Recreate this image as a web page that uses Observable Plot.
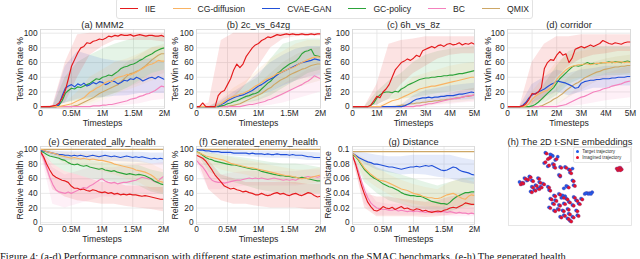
<!DOCTYPE html>
<html><head><meta charset="utf-8">
<script src="https://cdn.jsdelivr.net/npm/d3@7"></script>
<script src="https://cdn.jsdelivr.net/npm/@observablehq/plot@0.6"></script>
<style>
body{margin:0;background:#fff;font-family:"Liberation Sans",Arial,sans-serif;}
#root{position:relative;width:640px;height:259px;overflow:hidden;background:#fff;}
.p{position:absolute;}
.ylab{position:absolute;white-space:nowrap;font-size:8.7px;color:#262626;transform:translate(-50%,-50%) rotate(-90deg);line-height:1;}
#legend{position:absolute;left:116px;top:-2px;height:19px;border:1px solid #e2e2e2;border-radius:3px;display:flex;align-items:center;padding:0 3px 0 3px;font-size:8.6px;color:#262626;background:#fff;}
#legend .it{display:flex;align-items:center;margin-right:17px;}
#legend .it:last-child{margin-right:0;}
#legend .sw{width:18px;height:0;border-top:1.4px solid;margin-right:7px;}
#tlegend{position:absolute;left:573px;top:147px;width:56px;height:14px;border:1px solid #e6e6e6;border-radius:2px;font-size:4.6px;color:#333;background:#fff;}
#tlegend div{display:flex;align-items:center;height:6.5px;padding-left:2px;}
#tlegend span.d{width:3.2px;height:3.2px;border-radius:50%;margin-right:3px;display:inline-block;}
#caption{position:absolute;left:0;top:251px;width:640px;font-family:"Liberation Serif","Times New Roman",serif;font-size:10.5px;color:#111;white-space:nowrap;}
</style></head><body><div id="root"></div><script>
const methods = ["IIE","CG-diffusion","CVAE-GAN","GC-policy","BC","QMIX"];
const colors = ["#e41a1c","#f9b363","#2150d8","#2ca33a","#f481bd","#cda766"];
const xTicks2 = [0,0.5,1,1.5,2];
const xTicks5 = [0,1,2,3,4,5];
const yTicksPct = [0,20,40,60,80,100];
const yTicksDist = [0,0.02,0.04,0.06,0.08,0.1];

// (a) MMM2 — win rate %, 0..2M
const mmm2_IIE = [0,0,0,0,1,2,5,12,22,38,55,64,73,80,82,87,86,89,90,92,91,93,96,95,97,96,98,97,97,98,96,97,98,97,96,97,97,96,96,97,95];
const mmm2_CG = [0,0,0,0,0,0,0,1,2,3,4,6,8,10,12,16,20,22,25,27,30,33,35,34,38,40,41,42,44,43,45,47,50,52,55,57,58,60,63,62,62];
const mmm2_CVAE = [0,0,0,0,0,0,3,15,25,28,30,27,31,29,32,28,30,33,31,34,33,30,32,35,34,31,33,36,35,38,37,40,38,35,37,39,40,38,41,39,37];
const mmm2_GC = [0,0,0,0,0,0,2,8,18,22,25,24,27,26,28,30,32,35,38,37,40,41,43,42,45,48,52,54,55,57,58,60,63,65,68,70,72,75,77,79,80];
const mmm2_BC = [0,0,0,0,0,0,0,0,0,0,0,0,0,0,0,0,0,1,1,1,2,2,3,3,4,5,6,7,8,10,11,12,14,15,17,18,20,22,25,28,27];
const mmm2_QMIX = [0,0,0,0,0,0,0,0,0,0,0,1,2,4,6,8,10,12,15,18,20,22,24,26,28,30,34,38,42,45,46,48,50,53,56,60,64,67,70,72,72];
const mmm2_lo = [[0,0,5,40,70,82,90,90,90,90,88],[0,0,0,0,5,12,18,22,28,35,40],[0,0,5,10,12,12,14,15,18,18,18],[0,0,5,8,10,12,18,25,35,45,50],[0,0,0,0,0,0,0,2,4,8,10],[0,0,0,0,2,8,15,25,32,40,45]];
const mmm2_hi = [[0,2,60,98,100,100,100,100,100,100,100],[0,0,5,20,40,50,60,65,72,80,82],[0,0,55,75,70,65,62,62,65,65,60],[0,0,40,60,70,78,85,90,95,95,95],[0,0,0,0,2,8,15,25,35,45,50],[0,0,0,5,20,35,45,60,70,80,85]];

// (b) 2c_vs_64zg
const zg_IIE = [0,0,5,0,0,0,0,15,20,22,30,38,50,58,53,58,68,74,80,84,86,90,92,95,94,96,98,97,98,99,98,99,98,98,99,98,98,99,98,99,99];
const zg_CG = [0,0,0,0,0,0,0,2,4,7,10,12,14,15,17,18,20,22,25,28,30,33,36,38,40,42,45,46,48,50,52,53,55,58,60,62,64,66,67,68,67];
const zg_CVAE = [0,0,0,0,0,0,0,1,3,5,8,10,12,14,15,16,18,20,22,25,28,30,33,36,38,40,43,46,48,50,52,54,56,58,60,61,62,63,65,64,63];
const zg_GC = [0,0,0,0,0,0,0,0,1,2,4,5,7,8,10,12,14,15,17,18,20,24,28,32,35,40,45,48,52,55,58,60,62,66,72,75,76,78,70,69,68];
const zg_BC = [0,0,0,0,0,0,0,0,0,0,0,0,0,0,0,1,2,3,3,4,5,6,7,9,10,12,14,16,18,20,22,24,26,28,30,33,35,38,42,40,38];
const zg_QMIX = [0,0,0,0,0,0,0,0,0,0,0,1,2,3,4,6,8,10,12,14,16,18,21,24,26,30,33,36,38,40,43,45,47,49,51,52,54,56,57,58,58];
const zg_lo = [[0,0,2,10,30,55,80,92,95,96,96],[0,0,0,5,10,15,22,30,35,40,45],[0,0,0,5,10,15,20,28,35,40,42],[0,0,0,0,5,8,15,25,35,45,50],[0,0,0,0,0,0,2,5,10,15,20],[0,0,0,0,2,5,10,15,25,30,35]];
const zg_hi = [[0,5,90,100,100,100,100,100,100,100,100],[0,0,10,25,35,50,65,75,85,90,90],[0,0,8,20,30,45,60,70,78,82,82],[0,0,5,15,30,40,65,85,90,92,92],[0,0,0,2,5,10,20,30,40,50,55],[0,0,0,5,15,30,45,60,70,78,80]];

// (c) 6h_vs_8z, 0..5M
const h8z_IIE = [0,0,0,0,0,0,2,8,14,12,20,24,30,40,50,55,60,62,65,63,66,70,68,76,78,80,82,80,83,84,82,85,86,84,85,87,84,86,85,87,85];
const h8z_CG = [0,0,0,0,0,0,0,0,0,0,2,4,6,8,9,10,12,14,16,18,20,22,24,25,26,27,28,28,29,30,31,32,33,34,35,36,37,38,39,40,40];
const h8z_CVAE = [0,0,0,0,0,0,0,0,0,0,0,0,0,0,0,0,0,1,3,5,8,10,11,12,12,13,12,13,13,14,14,15,15,15,16,17,17,18,19,20,19];
const h8z_GC = [0,0,0,0,0,0,2,5,12,16,19,20,20,19,21,20,24,26,29,31,33,35,37,38,39,39,40,40,41,41,42,42,43,43,44,45,45,46,47,48,49];
const h8z_BC = [0,0,0,0,0,0,0,0,0,0,0,0,0,0,0,0,0,0,0,0,0,1,1,2,3,4,4,5,6,7,8,9,10,11,11,12,13,14,15,15,16];
const h8z_QMIX = [0,0,0,0,0,0,0,0,0,0,0,0,0,0,0,1,2,2,3,4,4,5,5,6,6,7,7,8,8,9,9,10,10,11,12,12,13,14,14,15,16];
const h8z_lo = [[0,0,2,10,30,45,55,65,70,72,72],[0,0,0,0,2,8,12,15,18,20,22],[0,0,0,0,0,2,5,6,8,9,10],[0,0,2,10,10,12,15,18,20,22,22],[0,0,0,0,0,0,0,2,3,5,6],[0,0,0,0,0,0,2,3,5,6,8]];
const h8z_hi = [[0,0,30,85,90,92,95,95,95,95,95],[0,0,0,10,25,40,45,50,55,58,60],[0,0,0,0,2,15,22,25,28,30,32],[0,0,20,35,45,60,70,75,78,80,82],[0,0,0,0,0,2,8,12,18,22,25],[0,0,0,0,3,8,12,15,18,22,25]];

// (d) corridor, 0..5M
const cor_IIE = [0,0,0,0,0,1,4,10,18,17,20,26,52,60,64,63,70,75,70,72,60,66,78,80,82,80,82,84,82,84,86,90,88,86,85,87,86,85,87,88,88];
const cor_CG = [0,0,0,0,0,0,1,4,10,14,17,19,21,22,25,30,37,42,46,50,53,55,56,57,57,58,58,57,58,59,59,60,60,60,61,60,61,61,60,61,60];
const cor_CVAE = [0,0,0,0,0,2,6,12,16,18,20,22,24,27,30,32,35,34,33,32,30,28,25,26,32,34,35,36,36,37,37,38,38,38,39,39,40,40,40,41,41];
const cor_GC = [0,0,0,0,0,0,0,0,1,3,6,10,14,18,22,26,32,38,42,46,50,54,56,55,56,58,60,58,59,58,59,60,60,61,60,61,61,60,61,62,61];
const cor_BC = [0,0,0,0,0,0,0,0,0,0,0,0,0,0,0,0,0,1,2,3,5,7,9,11,13,14,16,18,20,21,22,24,25,26,28,29,30,31,33,34,35];
const cor_QMIX = [0,0,0,0,0,0,0,0,0,0,0,1,3,5,7,10,12,15,18,22,25,28,31,33,36,39,41,43,45,47,48,50,51,52,53,54,54,55,55,56,56];
const cor_lo = [[0,0,2,10,40,55,65,70,72,75,75],[0,0,2,8,20,35,40,42,45,45,45],[0,0,5,12,20,15,20,25,25,28,28],[0,0,0,5,15,30,38,40,42,42,42],[0,0,0,0,0,0,2,5,8,10,12],[0,0,0,0,2,12,22,32,38,42,45]];
const cor_hi = [[0,0,60,85,95,95,98,98,98,98,98],[0,0,20,40,60,70,75,78,78,78,78],[0,0,30,40,50,45,50,52,55,55,55],[0,0,5,30,55,75,80,82,82,82,82],[0,0,0,0,2,15,30,40,45,50,55],[0,0,0,5,25,40,52,60,65,68,70]];

// (e) Generated_ally_health %
const ally_IIE = [97,90,80,72,65,62,60,58,57,55,50,47,47,45,46,44,43,45,44,42,41,42,40,41,39,40,38,39,38,39,38,38,37,36,37,36,35,34,33,32,32];
const ally_CG = [100,99,97,96,95,94,92,91,90,89,88,89,88,87,88,87,86,87,86,85,85,84,83,82,80,79,78,77,76,75,74,72,71,70,69,67,65,62,58,56,55];
const ally_CVAE = [99,98,97,96,95,94,93,93,92,92,91,92,91,92,91,90,91,92,91,90,91,92,91,90,91,90,89,90,91,90,89,90,89,90,89,88,87,88,87,88,87];
const ally_GC = [98,96,93,91,90,89,88,86,85,82,80,79,80,78,77,78,76,75,74,73,74,72,71,70,71,69,68,67,66,67,66,65,66,65,64,62,60,57,55,53,52];
const ally_BC = [96,88,75,62,52,45,42,41,40,42,40,42,44,46,48,47,50,52,55,58,60,57,55,54,55,53,54,55,55,56,57,58,60,62,61,60,59,56,55,60,63];
const ally_QMIX = [100,100,100,100,100];
const ally_lo = [[95,45,35,30,28,25,25,22,20,18,15],[99,90,80,78,75,70,65,60,55,45,40],[98,90,85,85,85,84,84,83,82,80,80],[97,80,70,65,60,58,55,52,50,42,38],[95,25,20,25,30,35,35,38,40,38,40],null];
const ally_hi = [[100,80,70,65,60,55,55,50,50,48,48],[100,98,96,95,93,92,90,88,85,80,72],[100,98,97,97,97,97,96,96,96,95,95],[100,95,92,88,85,82,80,78,78,72,68],[100,75,65,70,75,75,75,78,80,80,82],null];

// (f) Generated_enemy_health %
const enemy_IIE = [92,90,88,84,78,72,65,60,55,50,48,46,47,45,44,42,43,41,40,38,38,40,38,37,38,40,41,39,40,38,37,39,40,38,37,39,41,40,37,35,36];
const enemy_CG = [96,95,93,91,90,89,88,87,86,85,83,81,80,79,78,77,76,75,75,74,73,72,71,70,69,68,67,66,65,64,64,63,62,61,60,61,60,62,63,64,65];
const enemy_CVAE = [100,99,99,98,98,97,97,97,96,96,96,96,95,95,95,95,95,94,95,94,94,94,93,94,93,93,94,93,93,93,92,93,92,92,92,91,90,90,89,89,89];
const enemy_GC = [97,95,92,89,87,86,84,83,82,81,80,79,79,78,77,76,75,74,73,73,72,70,69,68,67,66,65,64,64,63,63,62,62,61,62,61,60,59,58,57,57];
const enemy_BC = [85,80,76,70,63,58,56,55,55,54,55,56,57,58,58,59,60,61,60,61,60,61,60,59,60,61,60,59,58,59,58,59,58,60,61,62,63,62,63,62,63];
const enemy_QMIX = [100,100,100,100,100];
const enemy_lo = [[90,45,30,25,25,22,20,20,20,18,18],[95,80,72,68,65,60,57,55,52,52,55],[99,94,92,91,90,89,88,88,87,85,85],[95,70,60,55,50,45,42,40,40,40,40],[80,45,45,48,50,50,50,50,50,52,52],null];
const enemy_hi = [[95,85,65,60,55,55,55,55,55,52,52],[98,95,92,88,85,82,78,75,72,72,75],[100,100,99,99,98,98,98,97,97,96,95],[99,95,92,90,88,85,82,80,80,78,75],[90,70,65,68,70,70,70,70,70,72,72],null];

// (g) Distance, in thousandths
const dist_IIE = [92,80,65,50,38,28,22,17,16,18,22,20,19,21,18,20,22,19,20,18,17,19,18,16,17,15,14,15,16,15,17,18,20,21,20,22,24,27,26,25,25];
const dist_CG = [95,91,86,80,74,70,66,63,60,58,57,56,54,52,50,48,46,45,44,42,40,39,38,36,35,34,34,33,33,34,36,38,39,40,38,35,33,32,36,38,37];
const dist_CVAE = [95,92,89,87,85,83,82,80,80,79,78,77,76,76,75,74,73,74,75,76,76,77,76,77,78,77,78,76,74,72,71,72,74,76,75,72,70,69,68,66,65];
const dist_GC = [93,90,85,78,72,68,64,61,59,56,53,51,49,48,46,44,41,39,38,37,37,36,36,35,33,31,29,28,27,26,26,25,28,32,35,37,39,41,41,42,42];
const dist_BC = [90,82,70,56,44,34,27,23,20,19,18,18,17,17,18,16,17,16,15,16,15,16,15,15,14,15,16,15,14,15,15,14,15,14,13,14,13,13,12,13,12];
const dist_QMIX = [97,97,97,97,97];
const dist_lo = [[90,20,8,8,8,8,7,8,10,12,12],[92,60,48,38,30,25,22,20,22,22,25],[93,80,72,68,65,66,65,62,60,55,52],[90,55,40,30,25,20,18,15,15,20,22],[88,25,10,10,10,10,10,10,8,8,8],null];
const dist_hi = [[95,40,35,35,32,30,28,30,35,38,40],[97,88,75,65,58,52,48,45,55,60,55],[97,95,92,90,90,92,92,92,92,88,85],[95,85,75,70,65,60,55,50,55,60,62],[93,50,28,25,25,22,22,22,20,20,20],null];

// (h) t-SNE embeddings
const tsneTarget = [[35,89],[36,88],[34,90],[29,79],[32,75],[36,78],[38,83],[40,87],[30,92],[37,74],[42,74],
[46,74],[49,71],[52,72],[50,67],[41,64],[42,62],[52,57],[53,51],[48,49],[45,47],[47,50],
[11,53],[12,54],[9,55],[13,60],[15,57],[17,62],[19,57],[24,60],[25,55],[22,51],[19,49],[21,45],[24,47],[26,49],[18,43],[28,53],[32,49],[33,45],
[37,38],[41,40],[44,36],[47,34],[38,32],[36,28],[41,26],[45,28],[49,30],[52,26],[55,32],[57,28],[48,21],[44,19],[40,21],[37,19],[49,15],[45,13],[52,11],[48,9],[42,11],[55,19],[50,6],[56,13],[34,34],[59,34],[53,36],[33,23],[43,35],[46,37],[44,38],
[62,40],[64,41],[66,41],[68,42],[65,40],[63,41],[67,40]];
const tsneImagined = [[33,85],[34,86],[32,84],[30,80],[33,76],[37,77],[39,84],[31,91],[38,73],[43,73],
[47,73],[50,70],[51,66],[42,63],[53,56],[54,50],[49,48],
[10,52],[11,54],[12,53],[14,59],[16,58],[18,61],[20,56],[25,59],[26,54],[23,50],[20,48],[22,44],[25,46],[27,48],[19,42],[29,52],[33,48],[34,44],
[38,37],[42,39],[45,35],[48,33],[39,31],[37,27],[42,25],[46,27],[50,29],[53,25],[56,31],[58,27],[49,20],[45,18],[41,20],[38,18],[50,14],[46,12],[53,10],[49,8],[43,10],[56,18],[51,5],[57,12],[35,33],[60,33],[54,35],[34,22],
[88,72],[90,71],[91,73],[89,70],[92,71],[90,73],[89,72],[91,70]];
const tsneNames = ["Target trajectory","Imagined trajectory"];
const tsneColors = ["#1f5ae8","#e8112a"];

const root = document.getElementById("root");
const FONT = '"Liberation Sans", Arial, sans-serif';

function rowsOf(arrs, xmax, scale) {
  const rows = [];
  for (let k = arrs.length - 1; k >= 0; k--) {
    const arr = arrs[k]; if (!arr) continue;
    const n = arr.length;
    arr.forEach((v, i) => rows.push({m: methods[k], x: i / (n - 1) * xmax, y: v * scale}));
  }
  return rows;
}
function bandsOf(los, his, xmax, scale) {
  const rows = [];
  for (let k = los.length - 1; k >= 0; k--) {
    const lo = los[k], hi = his[k]; if (!lo) continue;
    const n = lo.length;
    lo.forEach((v, i) => rows.push({m: methods[k], x: i / (n - 1) * xmax, lo: v * scale, hi: hi[i] * scale}));
  }
  return rows;
}

function panel(cfg) {
  const scale = cfg.scale || 1;
  const lines = rowsOf(cfg.lines, cfg.xmax, scale);
  const bands = bandsOf(cfg.lo, cfg.hi, cfg.xmax, scale);
  const chart = Plot.plot({
    width: cfg.width, height: cfg.height,
    marginLeft: cfg.ml, marginRight: cfg.mr, marginTop: cfg.mt, marginBottom: cfg.mb,
    style: {background: "none", fontFamily: FONT, fontSize: "8.3px", color: "#262626", overflow: "visible"},
    x: {domain: [0, cfg.xmax]},
    y: {domain: cfg.ydomain},
    color: {domain: methods, range: colors},
    marks: [
      Plot.gridX(cfg.xticks, {stroke: "#e4e4e4", strokeOpacity: 1, strokeWidth: 0.8}),
      Plot.gridY(cfg.yticks, {stroke: "#e4e4e4", strokeOpacity: 1, strokeWidth: 0.8}),
      Plot.areaY(bands, {x: "x", y1: "lo", y2: "hi", z: "m", fill: "m", fillOpacity: 0.12, curve: "linear"}),
      Plot.line(lines, {x: "x", y: "y", z: "m", stroke: "m", strokeWidth: 1.15}),
      Plot.frame({stroke: "#d6d6d6", strokeWidth: 0.8}),
      Plot.axisX(cfg.xticks, {tickSize: 0, tickPadding: 2, tickFormat: d => d === 0 ? "0" : d + "M", label: null, fontSize: 8.3}),
      Plot.axisY(cfg.yticks, {tickSize: 0, tickPadding: 3, tickFormat: cfg.yfmt || (d => String(d)), label: null, fontSize: 8.3}),
      Plot.text(["Timesteps"], {frameAnchor: "bottom", dy: cfg.xdy, lineAnchor: "middle", fontSize: 8.7, fill: "#262626"}),
      Plot.text([cfg.title], {frameAnchor: "top", dy: -1.5, lineAnchor: "bottom", fontSize: 9.3, fill: "#262626"})
    ]
  });
  const div = document.createElement("div");
  div.className = "p";
  div.style.left = cfg.left + "px"; div.style.top = cfg.top + "px";
  div.appendChild(chart);
  root.appendChild(div);
  const yl = document.createElement("div");
  yl.className = "ylab";
  yl.textContent = cfg.ylabel;
  yl.style.left = cfg.ylx + "px";
  yl.style.top = (cfg.top + cfg.mt + (cfg.height - cfg.mt - cfg.mb) / 2) + "px";
  root.appendChild(yl);
}

const top1 = {top: 10, height: 122, mt: 19, mb: 24, ydomain: [-2.5, 105], yticks: yTicksPct, ylabel: "Test Win Rate %", xdy: 15};
const bot1 = {top: 125, height: 124, mt: 21, mb: 25, xdy: 15};

panel({...top1, left: 0, width: 170, ml: 40, mr: 6, ylx: 20, xmax: 2, xticks: xTicks2, title: "(a) MMM2",
  lines: [mmm2_IIE, mmm2_CG, mmm2_CVAE, mmm2_GC, mmm2_BC, mmm2_QMIX], lo: mmm2_lo, hi: mmm2_hi});
panel({...top1, left: 160, width: 166, ml: 36, mr: 6, ylx: 175, xmax: 2, xticks: xTicks2, title: "(b) 2c_vs_64zg",
  lines: [zg_IIE, zg_CG, zg_CVAE, zg_GC, zg_BC, zg_QMIX], lo: zg_lo, hi: zg_hi});
panel({...top1, left: 320, width: 160, ml: 32, mr: 6, ylx: 328, xmax: 5, xticks: xTicks5, title: "(c) 6h_vs_8z",
  lines: [h8z_IIE, h8z_CG, h8z_CVAE, h8z_GC, h8z_BC, h8z_QMIX], lo: h8z_lo, hi: h8z_hi});
panel({...top1, left: 475, width: 162, ml: 32, mr: 7, ylx: 488, xmax: 5, xticks: xTicks5, title: "(d) corridor",
  lines: [cor_IIE, cor_CG, cor_CVAE, cor_GC, cor_BC, cor_QMIX], lo: cor_lo, hi: cor_hi});
panel({...bot1, left: 0, width: 170, ml: 40, mr: 7, ylx: 20, xmax: 2, xticks: xTicks2, ydomain: [-2.5, 104], yticks: yTicksPct,
  ylabel: "Relative Health %", title: "(e) Generated_ally_health",
  lines: [ally_IIE, ally_CG, ally_CVAE, ally_GC, ally_BC, ally_QMIX], lo: ally_lo, hi: ally_hi});
panel({...bot1, left: 160, width: 166, ml: 36, mr: 6, ylx: 175, xmax: 2, xticks: xTicks2, ydomain: [-2.5, 104], yticks: yTicksPct,
  ylabel: "Relative Health %", title: "(f) Generated_enemy_health",
  lines: [enemy_IIE, enemy_CG, enemy_CVAE, enemy_GC, enemy_BC, enemy_QMIX], lo: enemy_lo, hi: enemy_hi});
panel({...bot1, left: 320, width: 160, ml: 32, mr: 6, ylx: 328, xmax: 2, xticks: xTicks2, ydomain: [-0.0025, 0.104], yticks: yTicksDist,
  yfmt: d => d === 0 ? "0" : String(+d.toFixed(2)), scale: 0.001,
  ylabel: "Relative Distance", title: "(g) Distance",
  lines: [dist_IIE, dist_CG, dist_CVAE, dist_GC, dist_BC, dist_QMIX], lo: dist_lo, hi: dist_hi});

// (h) t-SNE
{
  const pts = [];
  tsneTarget.forEach(([x, y]) => pts.push({g: tsneNames[0], x, y}));
  tsneImagined.forEach(([x, y]) => pts.push({g: tsneNames[1], x, y}));
  const chart = Plot.plot({
    width: 160, height: 124, marginLeft: 33, marginRight: 4, marginTop: 21, marginBottom: 24,
    style: {background: "none", fontFamily: FONT, color: "#262626", overflow: "visible"},
    x: {domain: [0, 100], axis: null}, y: {domain: [0, 100], axis: null},
    color: {domain: tsneNames, range: tsneColors},
    marks: [
      Plot.frame({stroke: "#e0e0e0", strokeWidth: 0.8}),
      Plot.dot(pts, {x: "x", y: "y", fill: "g", r: 1.7, stroke: "#5b2c8f", strokeWidth: 0.35, strokeOpacity: 0.8}),
      Plot.text(["(h) The 2D t-SNE embeddings"], {frameAnchor: "top", dy: -1.5, lineAnchor: "bottom", fontSize: 9.3, fill: "#262626"})
    ]
  });
  const div = document.createElement("div");
  div.className = "p"; div.style.left = "475px"; div.style.top = "125px";
  div.appendChild(chart); root.appendChild(div);
  const tl = document.createElement("div"); tl.id = "tlegend";
  tsneNames.forEach((n, i) => {
    const r = document.createElement("div");
    r.innerHTML = `<span class="d" style="background:${tsneColors[i]}"></span>${n}`;
    tl.appendChild(r);
  });
  root.appendChild(tl);
}

// legend
{
  const lg = document.createElement("div"); lg.id = "legend";
  methods.forEach((m, i) => {
    const it = document.createElement("div"); it.className = "it";
    it.innerHTML = `<span class="sw" style="border-color:${colors[i]}"></span><span>${m}</span>`;
    lg.appendChild(it);
  });
  root.appendChild(lg);
}
// caption
{
  const c = document.createElement("div"); c.id = "caption";
  c.textContent = "Figure 4: (a-d) Performance comparison with different state estimation methods on the SMAC benchmarks. (e-h) The generated health";
  root.appendChild(c);
}
</script></body></html>
